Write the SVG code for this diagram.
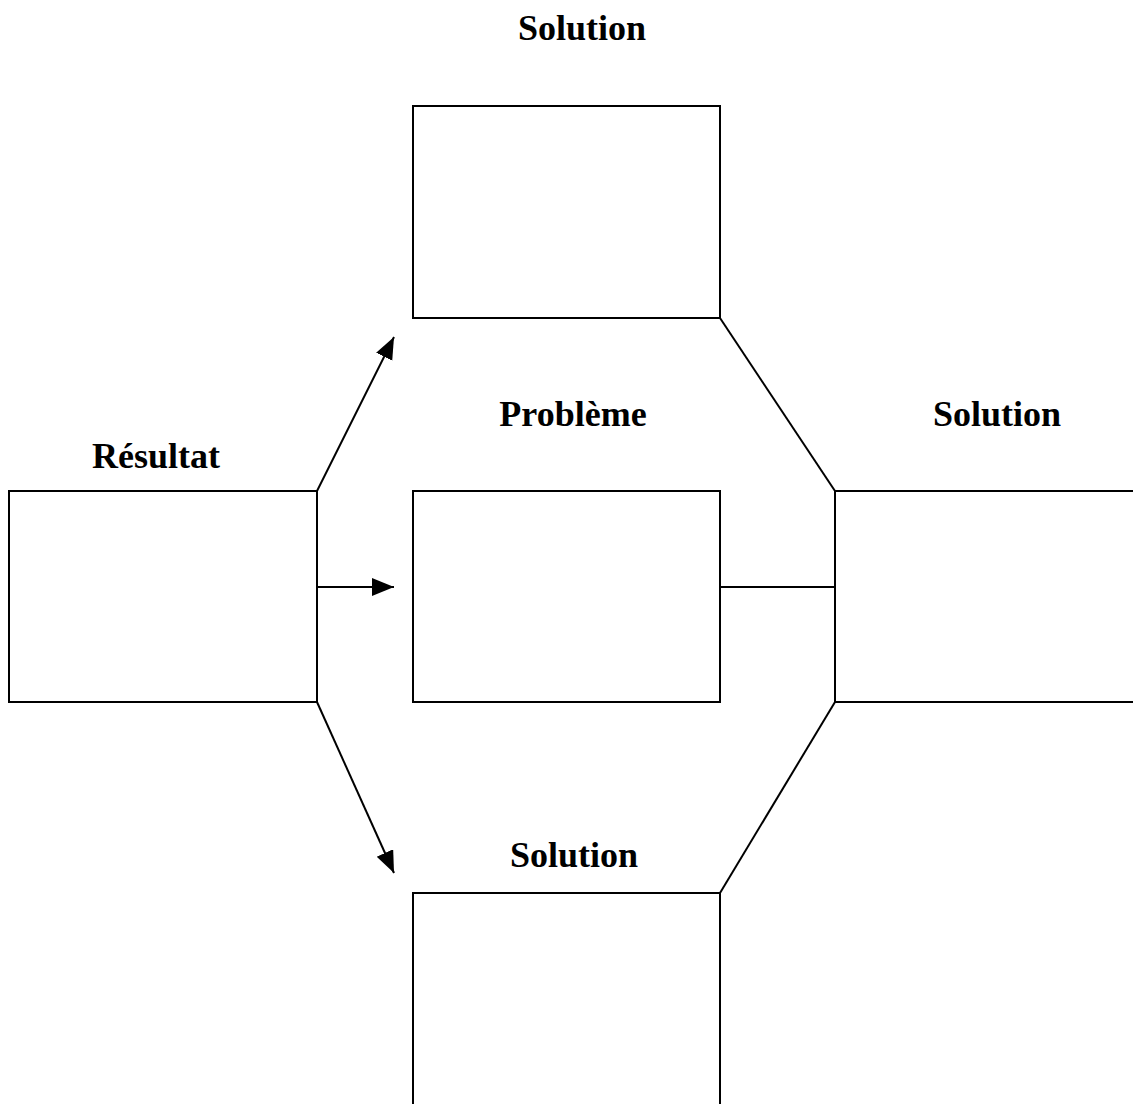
<svg xmlns="http://www.w3.org/2000/svg" width="1133" height="1104" viewBox="0 0 1133 1104">
<style>
.box{fill:#fff;stroke:#000;stroke-width:2}
.ln{fill:none;stroke:#000;stroke-width:2}
.lbl{font-family:"Liberation Serif","Times New Roman",serif;font-weight:bold;font-size:36px;text-anchor:middle;fill:#000}
</style>
<defs>
<marker id="ah" markerUnits="userSpaceOnUse" markerWidth="24" markerHeight="20" refX="22" refY="9" orient="auto">
<path d="M0,0 L22,9 L0,18 Z" fill="#000"/>
</marker>
</defs>
<rect width="1133" height="1104" fill="#fff"/>
<g id="connectors">
<line class="ln" x1="317" y1="491" x2="394" y2="337" marker-end="url(#ah)"/>
<line class="ln" x1="317" y1="587" x2="394" y2="587" marker-end="url(#ah)"/>
<line class="ln" x1="317" y1="702" x2="394" y2="873" marker-end="url(#ah)"/>
<line class="ln" x1="720" y1="318" x2="835" y2="491"/>
<line class="ln" x1="720" y1="587" x2="835" y2="587"/>
<line class="ln" x1="835" y1="702" x2="720" y2="893"/>
</g>
<g id="resultat">
<rect class="box" x="9" y="491" width="308" height="211"/>
<text class="lbl" x="156" y="468">Résultat</text>
</g>
<g id="solution-top">
<rect class="box" x="413" y="106" width="307" height="212"/>
<text class="lbl" x="582" y="40">Solution</text>
</g>
<g id="probleme">
<rect class="box" x="413" y="491" width="307" height="211"/>
<text class="lbl" x="573" y="426">Problème</text>
</g>
<g id="solution-right">
<rect class="box" x="835" y="491" width="310" height="211"/>
<text class="lbl" x="997" y="426">Solution</text>
</g>
<g id="solution-bottom">
<rect class="box" x="413" y="893" width="307" height="220"/>
<text class="lbl" x="574" y="867">Solution</text>
</g>
</svg>
